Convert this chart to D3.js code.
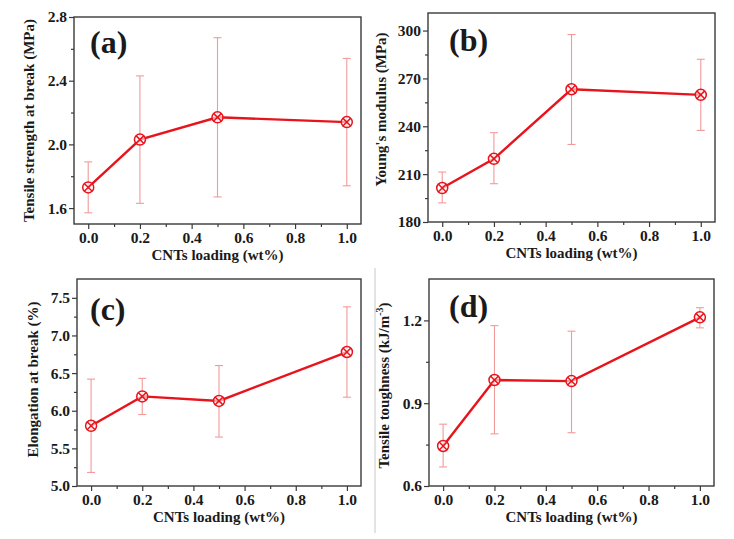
<!DOCTYPE html>
<html>
<head>
<meta charset="utf-8">
<script src="https://cdn.jsdelivr.net/npm/d3@7"></script>
<style>
html,body{margin:0;padding:0;background:#fff;}
svg{display:block;}
text{font-family:"Liberation Serif","Times New Roman",serif;font-weight:bold;fill:#1a1a1a;}
</style>
</head>
<body>
<svg id="chart" width="734" height="539"></svg>
<script>
// ---- data ----
const loading = [0.0, 0.2, 0.5, 1.0];
const xTicks = [0.0, 0.2, 0.4, 0.6, 0.8, 1.0];

const strengthMean = [1.73, 2.03, 2.17, 2.14];
const strengthLow  = [1.57, 1.63, 1.67, 1.74];
const strengthHigh = [1.89, 2.43, 2.67, 2.54];
const strengthTicks = [1.6, 2.0, 2.4, 2.8];

const modulusMean = [201.3, 219.6, 263.2, 259.7];
const modulusLow  = [192.0, 204.0, 228.6, 237.4];
const modulusHigh = [211.3, 236.0, 297.5, 282.0];
const modulusTicks = [180, 210, 240, 270, 300];

const elongMean = [5.80, 6.19, 6.13, 6.78];
const elongLow  = [5.18, 5.95, 5.65, 6.18];
const elongHigh = [6.42, 6.43, 6.60, 7.38];
const elongTicks = [5.0, 5.5, 6.0, 6.5, 7.0, 7.5];

const toughMean = [0.745, 0.984, 0.980, 1.211];
const toughLow  = [0.669, 0.789, 0.793, 1.173];
const toughHigh = [0.824, 1.181, 1.161, 1.246];
const toughTicks = [0.6, 0.9, 1.2];

// ---- layout ----
const panels = [
  {tag:"(a)", mean:strengthMean, low:strengthLow, high:strengthHigh, ticks:strengthTicks, fmt:d3.format(".1f"),
   ydom:[1.5,2.8], box:{l:74,t:17,r:361,b:224}, title:["Tensile strength at break (MPa)"], tx:34, ty:0, tagOff:[16,36]},
  {tag:"(b)", mean:modulusMean, low:modulusLow, high:modulusHigh, ticks:modulusTicks, fmt:d3.format("d"),
   ydom:[180,311], box:{l:428,t:13,r:715,b:222}, title:["Young's modulus (MPa)"], tx:386, ty:-8, tagOff:[21,38]},
  {tag:"(c)", mean:elongMean, low:elongLow, high:elongHigh, ticks:elongTicks, fmt:d3.format(".1f"),
   ydom:[5.0,7.75], box:{l:77,t:279,r:361,b:486}, title:["Elongation at break (%)"], tx:38, ty:-3, tagOff:[13,41]},
  {tag:"(d)", mean:toughMean, low:toughLow, high:toughHigh, ticks:toughTicks, fmt:d3.format(".1f"),
   ydom:[0.6,1.35], box:{l:429,t:279,r:714,b:486}, title:["Tensile toughness (kJ/m", "-3", ")"], tx:389, ty:3, tagOff:[20,38]}
];

const svg = d3.select("#chart");
svg.append("rect").attr("width",734).attr("height",539).attr("fill","#fff");
// faint separator between lower panels
svg.append("line").attr("x1",375).attr("x2",375).attr("y1",268).attr("y2",533)
  .attr("stroke","#c8c8c8").attr("stroke-width",1);

const lineColor = "#e8141c";
const errColor = "#f29a9a";
const axisColor = "#3a3a3a";

panels.forEach(p => {
  const b = p.box;
  const x = d3.scaleLinear().domain([-0.055, 1.055]).range([b.l, b.r]);
  const y = d3.scaleLinear().domain(p.ydom).range([b.b, b.t]);
  const g = svg.append("g");

  const xMinor = d3.range(0.1, 1.0, 0.2);
  const step = p.ticks[1]-p.ticks[0];
  const yMinor = p.ticks.map(t => t + step/2).filter(v => v < p.ydom[1]);

  g.append("g").attr("transform",`translate(0,${b.b})`)
    .call(d3.axisBottom(x).tickValues(xTicks).tickFormat(d3.format(".1f")).tickSize(5).tickPadding(3));
  g.append("g").attr("transform",`translate(0,${b.b})`)
    .call(d3.axisBottom(x).tickValues(xMinor).tickFormat("").tickSize(3));
  g.append("g").attr("transform",`translate(${b.l},0)`)
    .call(d3.axisLeft(y).tickValues(p.ticks).tickFormat(p.fmt).tickSize(5).tickPadding(2));
  g.append("g").attr("transform",`translate(${b.l},0)`)
    .call(d3.axisLeft(y).tickValues(yMinor).tickFormat("").tickSize(3));

  g.selectAll(".tick line").attr("stroke",axisColor).attr("stroke-width",1.2);
  g.selectAll(".tick text").style("font-size","15.5px").attr("fill","#1a1a1a");
  g.selectAll(".domain").remove();

  g.append("rect").attr("x",b.l).attr("y",b.t).attr("width",b.r-b.l).attr("height",b.b-b.t)
    .attr("fill","none").attr("stroke",axisColor).attr("stroke-width",1.4);

  g.append("text").attr("x",(b.l+b.r)/2).attr("y",b.b+36).attr("text-anchor","middle")
    .style("font-size","15px").text("CNTs loading (wt%)");

  const cy = (b.t+b.b)/2 + p.ty;
  const yt = g.append("text").attr("transform",`translate(${p.tx},${cy}) rotate(-90)`)
    .attr("text-anchor","middle").style("font-size","15px");
  yt.append("tspan").text(p.title[0]);
  if (p.title.length > 1) {
    yt.append("tspan").attr("dy",-6).style("font-size","10px").text(p.title[1]);
    yt.append("tspan").attr("dy",6).text(p.title[2]);
  }

  g.append("text").attr("x",b.l+p.tagOff[0]).attr("y",b.t+p.tagOff[1])
    .style("font-size","32px").text(p.tag);

  const pts = loading.map((v,i) => ({x:v, m:p.mean[i], lo:p.low[i], hi:p.high[i]}));

  const eb = g.append("g").attr("stroke",errColor).attr("stroke-width",1.1).attr("fill","none");
  pts.forEach(d => {
    eb.append("line").attr("x1",x(d.x)).attr("x2",x(d.x)).attr("y1",y(d.lo)).attr("y2",y(d.hi));
    eb.append("line").attr("x1",x(d.x)-4).attr("x2",x(d.x)+4).attr("y1",y(d.lo)).attr("y2",y(d.lo));
    eb.append("line").attr("x1",x(d.x)-4).attr("x2",x(d.x)+4).attr("y1",y(d.hi)).attr("y2",y(d.hi));
  });

  g.append("path").datum(pts)
    .attr("d", d3.line().x(d => x(d.x)).y(d => y(d.m)))
    .attr("fill","none").attr("stroke",lineColor).attr("stroke-width",2.4);

  const mk = g.append("g").attr("stroke",lineColor).attr("stroke-width",1.5).attr("fill","none");
  pts.forEach(d => {
    const cx = x(d.x), cyy = y(d.m), r = 5.5;
    mk.append("circle").attr("cx",cx).attr("cy",cyy).attr("r",r).attr("fill","#fff").attr("fill-opacity",0.6);
    const k = r*0.72;
    mk.append("line").attr("x1",cx-k).attr("y1",cyy-k).attr("x2",cx+k).attr("y2",cyy+k);
    mk.append("line").attr("x1",cx-k).attr("y1",cyy+k).attr("x2",cx+k).attr("y2",cyy-k);
  });
});
</script>
</body>
</html>
